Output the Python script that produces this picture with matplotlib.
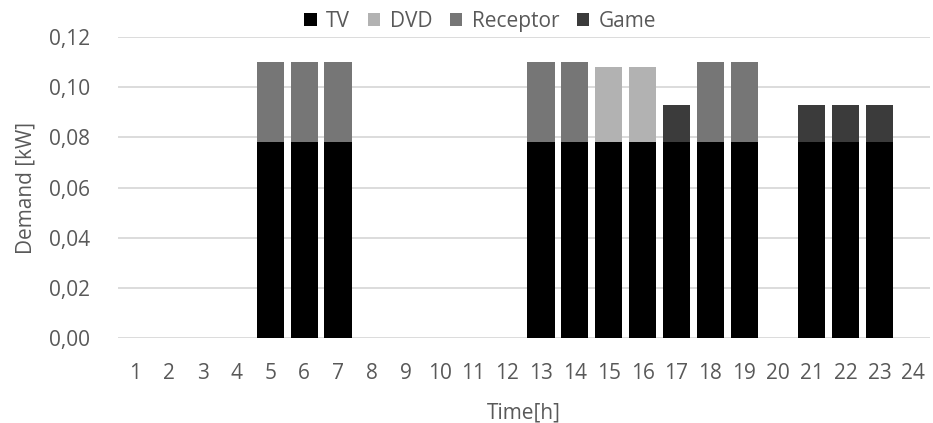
import numpy as np
import matplotlib.pyplot as plt

hours = list(range(1, 25))

# demand per appliance in kW, one value per hour
tv = [0, 0, 0, 0, 0.078, 0.078, 0.078, 0, 0, 0, 0, 0,
      0.078, 0.078, 0.078, 0.078, 0.078, 0.078, 0.078, 0, 0.078, 0.078, 0.078, 0]
dvd = [0, 0, 0, 0, 0, 0, 0, 0, 0, 0, 0, 0,
       0, 0, 0.030, 0.030, 0, 0, 0, 0, 0, 0, 0, 0]
receptor = [0, 0, 0, 0, 0.032, 0.032, 0.032, 0, 0, 0, 0, 0,
            0.032, 0.032, 0, 0, 0, 0.032, 0.032, 0, 0, 0, 0, 0]
game = [0, 0, 0, 0, 0, 0, 0, 0, 0, 0, 0, 0,
        0, 0, 0, 0, 0.015, 0, 0, 0, 0.015, 0.015, 0.015, 0]

series = [("TV", tv, "#000000"), ("DVD", dvd, "#b2b2b2"),
          ("Receptor", receptor, "#767676"), ("Game", game, "#3b3b3b")]

plt.rcParams['font.family'] = ['Open Sans', 'DejaVu Sans']
txt = "#595959"
fs = 15

fig = plt.figure(figsize=(9.33, 4.23), dpi=100)
ax = fig.add_axes([0.1265, 0.2009, 0.8705, 0.7116])

x = np.arange(len(hours))
bottom = np.zeros(len(hours))
for name, vals, col in series:
    vals = np.array(vals)
    ax.bar(x, vals, 0.8, bottom=bottom, color=col, label=name, zorder=3)
    bottom += vals

ax.set_xlim(-0.5, len(hours) - 0.5)
ax.set_ylim(0, 0.12)
yt = np.arange(0, 0.121, 0.02)
ax.set_yticks(yt)
ax.set_yticklabels([f"{v:.2f}".replace(".", ",") for v in yt])
ax.set_xticks(x)
ax.set_xticklabels([str(h) for h in hours])
ax.tick_params(length=0, colors=txt, labelsize=fs)
ax.tick_params(axis='x', pad=18)
ax.tick_params(axis='y', pad=20)
ax.grid(axis='y', color="#d9d9d9", linewidth=1.3, zorder=0)
for s in ax.spines.values():
    s.set_visible(False)

ax.set_ylabel("Demand [kW]", color=txt, fontsize=fs, labelpad=9)
ax.set_xlabel("Time[h]", color=txt, fontsize=fs, labelpad=13)

leg = ax.legend(loc="lower center", bbox_to_anchor=(0.446, 0.99), ncol=4, frameon=False,
                fontsize=fs, handlelength=0.6, handleheight=0.6, handletextpad=0.45,
                columnspacing=0.85, borderaxespad=0)
for t in leg.get_texts():
    t.set_color(txt)

fig.savefig("out.png", dpi=100)
